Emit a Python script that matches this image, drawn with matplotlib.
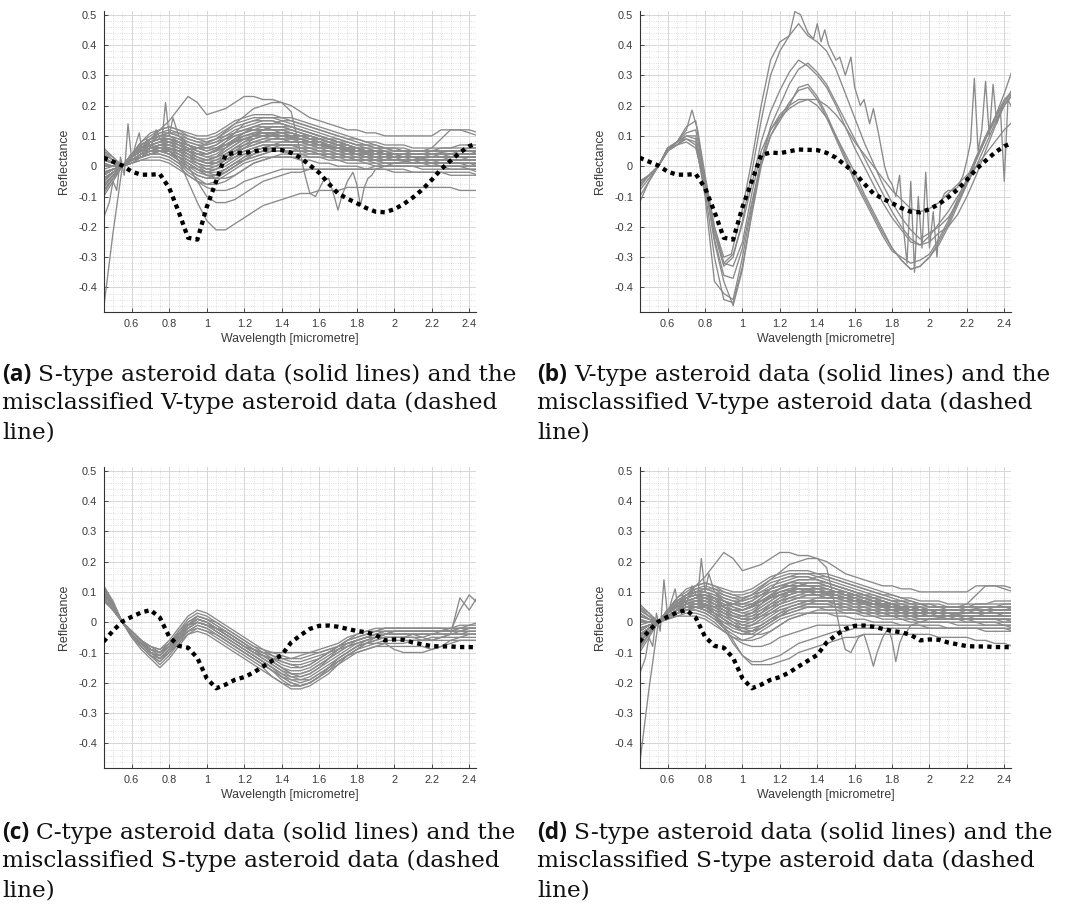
import numpy as np
import matplotlib
matplotlib.use("Agg")
import matplotlib.pyplot as plt
from matplotlib.ticker import MultipleLocator, FuncFormatter

# Sampling wavelengths (micrometre) shared by most spectra
wavelength = np.array([
    0.45, 0.50, 0.55, 0.60, 0.65, 0.70, 0.75, 0.80, 0.85, 0.90, 0.95,
    1.00, 1.05, 1.10, 1.15, 1.20, 1.25, 1.30, 1.35, 1.40, 1.45, 1.50,
    1.55, 1.60, 1.65, 1.70, 1.75, 1.80, 1.85, 1.90, 1.95, 2.00, 2.05,
    2.10, 2.15, 2.20, 2.25, 2.30, 2.35, 2.40, 2.45])

# ---------------- S-type spectra (reflectance x 100) ----------------
s_type_band = np.array([
    [-4,-2,0,3,5,7,8,8,6,4,2,1,2,4,6,8,9,10,10,10,10,9,9,8,7,6,5,5,4,4,3,3,3,3,3,3,3,3,3,3,3],
    [-8,-4,0,4,7,9,10,10,8,5,3,2,3,6,9,11,13,14,14,14,13,12,11,10,9,8,7,6,5,4,4,3,3,3,3,4,4,4,4,4,5],
    [2,1,0,2,4,5,6,5,3,1,-1,-2,-1,1,3,5,6,7,7,7,7,6,6,5,5,4,4,3,3,2,2,2,2,2,2,2,2,2,2,2,2],
    [-6,-3,0,3,5,6,7,6,4,2,0,-2,-3,-2,0,2,4,5,6,6,6,5,5,4,4,3,3,2,2,1,1,1,1,1,1,1,0,0,0,0,0],
    [5,2,0,4,8,10,12,13,12,10,9,9,10,12,14,15,16,16,16,15,14,13,12,11,10,9,8,7,6,6,5,5,5,5,5,6,9,12,12,11,10],
    [-3,-1,0,1,3,4,4,3,1,-1,-3,-4,-4,-2,0,2,3,4,5,5,5,5,4,4,3,3,2,2,1,1,0,0,0,0,-1,-1,-1,-1,-1,-1,-2],
    [-10,-5,0,3,6,8,9,9,8,7,6,6,7,9,11,12,13,13,12,12,11,10,9,8,7,6,5,4,4,3,3,2,2,2,2,2,2,3,3,3,3],
    [3,1,0,2,4,6,7,8,7,6,4,3,3,4,6,7,8,9,9,9,8,8,7,7,6,6,5,5,5,4,4,4,4,4,4,5,5,5,5,6,6],
    [-5,-2,0,2,4,5,5,4,2,0,-2,-3,-4,-4,-3,-1,1,2,3,4,4,4,4,4,3,3,3,2,2,2,1,1,1,1,1,1,1,1,1,1,1],
    [0,0,0,3,5,8,9,10,9,8,7,7,8,10,11,12,12,12,12,11,10,9,8,7,6,5,5,4,4,3,3,3,3,2,2,2,2,2,2,2,2],
    [-7,-3,0,2,3,4,4,3,1,-2,-4,-6,-6,-5,-3,-1,1,2,3,3,3,3,3,3,3,2,2,2,2,2,1,1,1,1,1,0,0,0,0,-1,-1],
    [4,2,0,3,6,8,9,9,7,5,3,2,3,5,7,9,10,11,11,11,11,10,10,9,8,7,6,5,5,4,4,3,3,3,2,2,2,2,2,3,3],
    [-2,-1,0,3,6,9,11,12,11,9,8,7,8,9,11,12,13,14,14,15,15,14,13,12,11,10,9,8,7,7,6,6,6,5,5,5,5,5,5,5,5],
    [-4,-2,0,2,3,5,5,5,3,1,-1,-2,-1,1,3,4,5,6,6,6,6,6,5,5,5,4,4,4,3,3,3,3,3,3,3,3,3,4,4,4,4],
    [6,3,0,1,2,3,3,2,0,-3,-5,-6,-5,-3,-1,1,2,3,3,3,3,2,2,1,1,0,0,0,-1,-1,-1,-2,-2,-2,-2,-2,-2,-3,-3,-3,-3],
    [-9,-4,0,4,7,9,10,11,11,10,9,8,9,10,12,13,14,15,15,14,13,12,11,10,9,8,7,6,5,5,4,4,4,3,3,3,3,3,4,4,4],
    [1,0,0,2,4,6,7,6,5,4,3,2,2,3,5,6,7,8,9,9,9,9,8,8,7,7,6,6,5,5,5,4,4,4,4,4,4,4,4,4,4],
    [-3,-1,0,2,3,4,5,5,4,3,2,1,1,2,3,5,6,7,7,7,7,6,6,5,4,4,3,3,2,2,2,2,2,2,1,1,1,1,1,0,0],
    [2,1,0,4,7,9,10,10,9,7,5,4,5,7,9,11,12,12,12,12,11,10,9,9,8,7,6,6,5,5,4,4,4,4,4,4,4,4,5,5,5],
    [-5,-2,0,1,2,2,2,1,-1,-3,-5,-7,-8,-8,-7,-5,-4,-3,-2,-1,-1,-1,-1,-1,-1,-1,-1,-1,-1,-1,-1,-1,-1,-2,-2,-2,-2,-2,-2,-2,-3],
    [-2,-1,0,3,5,7,8,9,8,7,6,5,6,8,10,11,12,12,13,13,12,11,10,9,8,7,6,5,5,4,4,3,3,3,3,3,3,3,3,3,3],
    [3,1,0,2,4,5,6,6,5,3,1,0,0,2,4,6,8,9,10,10,10,10,9,9,8,7,7,6,6,5,5,4,4,4,4,4,3,3,3,3,3],
    [-6,-3,0,3,6,7,8,7,5,3,1,-1,-1,0,2,4,5,6,7,7,7,7,6,6,5,5,4,4,3,3,2,2,2,2,2,2,2,2,2,2,2],
    [0,0,0,2,4,6,6,6,5,3,2,1,1,3,5,7,9,10,11,11,11,10,9,8,7,6,5,4,4,3,3,2,2,2,2,1,1,1,1,1,0],
    [-2,-1,0,4,8,11,12,13,12,11,10,10,11,13,15,16,17,17,17,16,15,14,13,12,11,10,9,9,8,8,7,7,7,6,6,6,6,6,6,6,6],
    [-5,-2,0,3,6,8,9,9,8,6,5,4,5,8,11,14,15,16,16,16,16,15,14,13,12,11,10,9,8,7,6,5,5,4,4,4,4,4,4,4,4],
    [-1,0,0,2,4,6,7,7,6,5,4,4,5,6,8,9,10,11,11,11,10,10,9,8,8,7,6,6,5,5,4,4,4,3,3,3,3,3,3,3,3],
    [-4,-2,0,3,5,7,8,8,7,5,4,3,4,6,8,10,11,12,12,12,12,11,10,9,8,8,7,6,6,5,5,4,4,4,4,4,4,4,4,4,4],
    [2,1,0,3,5,6,7,7,6,4,2,1,1,3,5,7,8,8,9,9,8,8,7,6,6,5,4,4,3,3,2,2,2,1,1,1,1,1,1,1,1],
    [-7,-3,0,4,7,9,11,11,10,9,8,8,9,11,13,14,15,15,15,14,13,12,11,10,9,9,8,7,7,6,6,5,5,5,5,5,6,6,7,7,7],
    [3,1,0,2,3,4,5,4,2,0,-1,-2,-2,-1,1,2,3,4,5,5,5,5,5,4,4,4,3,3,3,2,2,2,2,2,2,2,2,2,2,2,2],
    [-3,-1,0,2,4,5,6,6,4,2,0,-1,0,2,4,6,7,8,8,8,8,8,7,7,6,6,5,5,4,4,4,3,3,3,3,3,3,3,3,3,3],
    [1,0,0,3,5,7,8,9,8,7,6,5,6,7,9,10,11,11,11,10,10,9,8,8,7,6,6,5,5,4,4,4,3,3,3,3,3,3,3,3,3],
    [-2,-1,0,2,3,4,5,5,3,1,-1,-3,-3,-1,1,3,5,6,7,8,8,8,8,7,7,6,6,5,5,4,4,3,3,3,2,2,2,2,2,2,2],
    [4,2,0,3,6,8,10,11,10,8,7,6,7,9,10,11,12,13,13,13,12,11,10,9,8,7,7,6,5,5,4,4,4,4,4,4,4,4,4,4,4],
    [-6,-3,0,3,5,6,6,5,3,1,-1,-3,-3,-2,0,2,4,5,6,7,7,7,7,6,6,5,5,4,4,3,3,3,2,2,2,2,1,1,1,1,1],
    [0,0,0,1,3,4,5,4,3,2,1,0,1,3,6,8,10,12,13,13,13,12,11,10,9,8,7,6,5,5,4,4,3,3,3,3,3,3,3,3,3],
    [-4,-2,0,4,6,8,9,8,6,4,2,2,3,5,7,9,10,10,10,9,9,8,8,7,7,6,6,5,5,5,4,4,4,4,4,4,4,4,4,4,4],
    [5,3,0,2,4,6,7,8,8,7,6,6,6,7,8,9,9,10,10,10,10,10,10,9,9,8,8,7,7,6,6,6,5,5,5,5,5,5,5,5,5],
    [-8,-4,0,2,4,5,5,4,2,-1,-3,-4,-3,-1,1,3,4,5,5,5,4,4,3,3,2,2,1,1,1,0,0,0,0,0,0,0,0,-1,-1,-1,-1],
    [-47,-22,0,3,5,6,7,7,6,5,4,4,5,7,8,9,10,10,10,10,9,9,8,7,7,6,6,5,5,4,4,4,4,4,4,4,4,4,4,4,4],
    [0,0,0,3,6,9,12,15,19,23,21,17,18,19,21,23,23,22,22,21,20,18,16,15,14,13,12,12,11,11,10,10,10,10,10,10,12,12,12,12,11],
]) / 100

# S-type spectra that differ between the two S-type panels
s_type_low_a = np.array([
    [-3,-1,0,3,5,7,6,5,2,-5,-12,-18,-21,-21,-19,-17,-15,-13,-12,-11,-10,-9,-9,-8,-8,-8,-7,-7,-7,-7,-7,-7,-7,-7,-7,-7,-7,-7,-8,-8,-8],
    [-2,-1,0,2,4,6,6,5,3,0,-5,-10,-12,-12,-11,-9,-7,-5,-4,-3,-2,-2,-1,-1,-1,-1,-1,-1,-1,0,0,0,0,0,0,0,0,0,0,0,0],
]) / 100
s_type_low_d = np.array([
    [-3,-1,0,3,5,7,7,6,3,-1,-6,-11,-14,-14,-14,-13,-12,-10,-9,-8,-7,-6,-5,-5,-4,-4,-4,-4,-4,-4,-4,-4,-5,-5,-5,-5,-6,-6,-7,-7,-8],
    [-2,-1,0,2,4,5,5,4,2,-2,-7,-11,-13,-13,-12,-11,-9,-7,-6,-5,-4,-3,-3,-2,-2,-2,-2,-2,-2,-2,-2,-2,-2,-2,-2,-2,-2,-2,-2,-2,-2],
]) / 100

# Finely sampled, noisy S-type spectra
s_noisy_short_w = np.array([0.45,0.48,0.50,0.52,0.54,0.56,0.58,0.60,0.62,0.64,0.66,0.68,0.70,0.73,
                            0.76,0.78,0.80,0.82,0.85,0.90,0.95,1.00,1.10,1.20,1.30,1.40,1.50,
                            1.60,1.70,1.80,1.90,2.00,2.10,2.20,2.30,2.40,2.45])
s_noisy_short_v = np.array([-0.17,-0.12,-0.05,-0.08,0.03,-0.03,0.14,0.02,0.07,0.11,0.03,0.09,0.06,0.12,
                            0.08,0.21,0.10,0.16,0.10,0.07,0.05,0.04,0.07,0.10,0.11,0.10,0.09,
                            0.07,0.06,0.05,0.04,0.04,0.04,0.04,0.05,0.05,0.05])
s_noisy_long_w = np.array([0.45,0.55,0.65,0.75,0.85,0.95,1.05,1.15,1.25,1.35,1.40,1.45,1.48,1.52,
                           1.55,1.58,1.62,1.65,1.68,1.70,1.72,1.75,1.78,1.80,1.82,1.84,1.86,
                           1.88,1.90,1.95,2.00,2.10,2.20,2.30,2.40,2.45])
s_noisy_long_v = np.array([0.00,0.00,0.04,0.06,0.05,0.06,0.09,0.14,0.19,0.21,0.21,0.18,0.10,-0.02,
                           -0.09,-0.10,-0.05,-0.04,-0.10,-0.145,-0.10,-0.05,-0.02,-0.06,-0.13,-0.07,-0.04,
                           -0.03,-0.01,0.00,0.01,0.02,0.03,0.03,0.03,0.03])

# ---------------- V-type spectra (reflectance x 100) ----------------
v_type = np.array([
    [-6,-3,0,5,7,10,9,-6,-22,-33,-30,-18,-2,15,30,38,43,47,43,41,38,32,24,16,8,1,-6,-12,-17,-21,-24,-22,-20,-17,-12,-6,0,7,14,21,26],
    [-8,-4,0,5,8,11,12,-4,-20,-32,-29,-19,-6,8,18,25,31,35,33,30,26,20,13,6,0,-6,-12,-17,-21,-25,-26,-25,-22,-20,-16,-10,-3,5,13,20,25],
    [-10,-5,0,6,8,10,10,-6,-24,-36,-37,-27,-12,2,13,20,27,32,34,31,27,21,15,9,3,-3,-9,-15,-20,-24,-26,-23,-19,-15,-10,-5,2,9,16,24,33],
    [-5,-3,0,5,7,9,7,-8,-30,-44,-45,-33,-16,0,10,15,20,26,27,23,17,10,3,-4,-10,-16,-22,-27,-31,-34,-33,-30,-25,-19,-12,-5,3,10,16,21,26],
    [-7,-3,0,6,8,9,8,-10,-38,-42,-44,-30,-13,1,10,16,21,25,26,22,16,9,2,-5,-11,-17,-23,-28,-30,-32,-31,-29,-24,-18,-11,-4,3,9,15,20,24],
    [-12,-5,0,6,7,8,6,-6,-22,-32,-33,-25,-9,5,12,16,19,21,22,22,20,17,13,8,4,0,-4,-8,-11,-14,-15,-14,-12,-9,-6,-3,0,4,8,12,15],
    [-6,-3,0,5,8,13,15,-5,-25,-38,-46,-34,-15,2,12,17,20,22,22,20,16,10,4,-2,-9,-15,-21,-27,-31,-34,-33,-30,-26,-20,-13,-6,2,9,16,22,25],
]) / 100
v_noisy_w = np.array([0.45,0.50,0.55,0.60,0.65,0.70,0.73,0.76,0.80,0.85,0.90,0.94,1.00,1.05,1.10,
                      1.15,1.20,1.25,1.28,1.31,1.35,1.38,1.40,1.42,1.44,1.46,1.50,1.52,1.55,
                      1.58,1.60,1.63,1.65,1.68,1.70,1.73,1.76,1.78,1.80,1.82,1.84,1.86,1.88,
                      1.90,1.92,1.94,1.96,1.98,2.00,2.02,2.04,2.06,2.08,2.10,2.12,2.15,2.18,
                      2.20,2.22,2.24,2.26,2.28,2.30,2.32,2.34,2.36,2.38,2.40,2.42,2.45])
v_noisy_v = np.array([-0.05,-0.03,0.00,0.06,0.08,0.12,0.185,0.12,-0.03,-0.20,-0.30,-0.29,-0.14,0.02,0.20,
                      0.35,0.41,0.43,0.51,0.50,0.44,0.42,0.47,0.41,0.45,0.40,0.35,0.36,0.30,
                      0.36,0.26,0.20,0.22,0.14,0.19,0.10,0.00,-0.04,-0.06,-0.10,-0.03,-0.20,-0.32,
                      -0.05,-0.35,-0.10,-0.27,-0.02,-0.27,-0.15,-0.30,-0.12,-0.09,-0.08,-0.08,-0.07,-0.03,
                      0.02,0.08,0.29,0.05,0.12,0.28,0.10,0.27,0.14,0.18,-0.05,0.22,0.18])

# ---------------- C-type spectra (reflectance x 100) ----------------
c_type = np.array([
    [12,6,0,-4,-7,-10,-12,-9,-5,-1,1,0,-2,-4,-6,-8,-10,-12,-14,-16,-17,-17,-16,-14,-12,-10,-8,-7,-6,-5,-5,-5,-5,-4,-4,-4,-4,-4,-4,-4,-4],
    [10,5,0,-4,-8,-11,-13,-10,-6,-2,0,-1,-3,-5,-7,-9,-11,-13,-15,-17,-19,-19,-18,-16,-14,-12,-10,-8,-7,-6,-5,-5,-5,-5,-5,-4,-4,-4,-4,-3,-3],
    [8,4,0,-3,-6,-9,-10,-7,-3,1,3,2,0,-2,-4,-6,-8,-9,-10,-11,-12,-12,-11,-10,-9,-8,-6,-5,-4,-3,-3,-3,-3,-3,-3,-3,-3,-3,-3,-2,-2],
    [11,6,0,-5,-9,-12,-15,-12,-8,-4,-2,-3,-5,-7,-9,-11,-13,-15,-18,-20,-22,-22,-21,-19,-17,-14,-11,-9,-7,-6,-5,-5,-5,-5,-6,-6,-5,-5,-5,-5,-5],
    [9,5,0,-4,-7,-9,-11,-8,-4,0,2,1,-1,-3,-5,-7,-9,-11,-13,-15,-16,-16,-15,-13,-11,-9,-7,-6,-5,-4,-3,-3,-3,-3,-3,-3,-3,-3,-3,-3,-3],
    [7,4,0,-3,-6,-8,-9,-6,-2,2,4,3,1,-1,-3,-5,-7,-9,-11,-13,-14,-15,-14,-12,-10,-8,-6,-4,-3,-2,-2,-2,-2,-2,-2,-2,-2,-2,-2,-2,-2],
    [12,7,0,-5,-8,-11,-12,-9,-6,-3,-2,-3,-4,-6,-8,-10,-12,-14,-16,-18,-20,-21,-20,-18,-15,-12,-10,-8,-6,-5,-4,-4,-4,-4,-5,-6,-5,-4,-3,-2,-2],
    [10,5,0,-4,-7,-10,-11,-8,-4,-1,1,0,-2,-4,-6,-8,-10,-11,-12,-13,-14,-14,-13,-12,-10,-8,-7,-6,-5,-4,-4,-3,-3,-3,-3,-3,-3,-3,-2,-2,-2],
    [9,5,0,-4,-7,-10,-12,-9,-5,-1,2,1,-1,-3,-5,-7,-9,-11,-13,-15,-17,-18,-17,-15,-13,-11,-9,-7,-6,-5,-4,-4,-4,-4,-4,-4,-3,-3,-2,-1,0],
    [11,6,0,-4,-8,-11,-13,-10,-6,-2,0,-1,-3,-5,-7,-9,-11,-13,-15,-18,-20,-21,-20,-18,-16,-13,-11,-9,-8,-7,-6,-6,-6,-6,-6,-6,-6,-6,-6,-6,-6],
    [8,4,0,-3,-6,-9,-10,-7,-4,-1,1,0,-2,-4,-6,-8,-9,-10,-10,-10,-10,-10,-10,-10,-9,-8,-7,-6,-5,-4,-3,-3,-3,-3,-3,-3,-3,-3,-3,-3,-3],
    [10,5,0,-4,-7,-10,-12,-9,-6,-3,-1,-2,-4,-6,-8,-10,-12,-14,-16,-18,-19,-20,-19,-17,-15,-13,-11,-10,-9,-8,-8,-8,-8,-8,-8,-9,-8,-7,-6,-6,-6],
    [12,6,0,-4,-7,-9,-10,-7,-3,0,2,1,0,-2,-4,-6,-8,-10,-12,-14,-15,-15,-14,-12,-10,-8,-6,-5,-4,-3,-2,-2,-2,-2,-2,-2,-2,-3,4,9,6],
    [9,5,0,-3,-6,-8,-9,-7,-4,-1,0,-1,-3,-5,-7,-9,-11,-13,-15,-17,-18,-18,-17,-15,-12,-9,-7,-6,-5,-5,-4,-4,-4,-4,-4,-4,-4,-4,-4,-4,-4],
    [11,6,0,-4,-7,-10,-11,-8,-4,-1,1,0,-2,-3,-5,-7,-9,-11,-13,-15,-17,-17,-16,-14,-12,-10,-8,-6,-5,-4,-4,-4,-4,-4,-4,-4,-4,-4,8,4,9],
    [10,5,0,-4,-7,-10,-12,-10,-7,-4,-3,-4,-6,-8,-10,-12,-14,-16,-18,-20,-21,-21,-20,-18,-16,-14,-12,-10,-9,-8,-7,-7,-7,-6,-6,-5,-5,-4,-4,-4,-4],
    [8,4,0,-3,-6,-8,-10,-8,-5,-2,0,-1,-2,-4,-6,-8,-10,-11,-12,-12,-12,-11,-10,-9,-8,-7,-5,-4,-3,-3,-2,-2,-2,-2,-2,-2,-2,-2,-2,-2,-2],
    [11,6,0,-4,-8,-11,-14,-11,-7,-3,-1,-2,-4,-6,-8,-10,-12,-14,-16,-19,-21,-21,-20,-18,-15,-12,-10,-8,-7,-7,-7,-9,-10,-10,-10,-9,-8,-6,-5,-4,-4],
    [9,5,0,-3,-6,-9,-10,-8,-5,-2,0,-1,-2,-3,-5,-7,-9,-10,-11,-12,-13,-13,-12,-11,-10,-9,-8,-7,-6,-5,-4,-4,-4,-4,-4,-4,-4,-4,-4,-4,-4],
    [10,5,0,-4,-7,-10,-11,-8,-5,-1,1,0,-2,-4,-6,-8,-10,-12,-14,-16,-18,-19,-19,-17,-15,-13,-11,-9,-7,-5,-4,-3,-3,-3,-3,-3,-3,-2,-1,-1,-1],
]) / 100

# ---------------- Misclassified spectra (dashed) ----------------
misclassified_v = np.array([
    2.8,1.5,0.2,-1.8,-2.8,-2.8,-2.6,-7.2,-15.0,-23.6,-24.2,-13.5,-5.0,3.7,4.5,4.3,4.9,5.5,5.4,5.3,4.4,
    2.8,0.3,-2.2,-5.7,-9.0,-10.7,-12.2,-13.8,-15.0,-15.2,-14.2,-12.5,-10.3,-7.7,-4.5,-1.0,1.8,4.5,6.6,7.8]) / 100
misclassified_s = np.array([
    -6.4,-2.8,0.2,1.8,3.2,4.0,1.5,-4.8,-7.8,-8.4,-11.8,-18.5,-21.8,-20.6,-19.0,-18.1,-16.6,-14.6,-12.7,
    -10.8,-6.7,-4.3,-2.2,-1.2,-1.1,-1.5,-2.2,-2.9,-3.3,-4.2,-6.0,-5.7,-5.8,-6.7,-7.3,-7.9,-8.0,-8.0,
    -8.2,-8.2,-8.3]) / 100

captions = [
    ("(a)", "S-type asteroid data (solid lines) and the",
     ["misclassified V-type asteroid data (dashed", "line)"]),
    ("(b)", "V-type asteroid data (solid lines) and the",
     ["misclassified V-type asteroid data (dashed", "line)"]),
    ("(c)", "C-type asteroid data (solid lines) and the",
     ["misclassified S-type asteroid data (dashed", "line)"]),
    ("(d)", "S-type asteroid data (solid lines) and the",
     ["misclassified S-type asteroid data (dashed", "line)"]),
]

GRAY = "#8a8a8a"
LW = 0.95
W, H = 1071, 915
fig = plt.figure(figsize=(W / 100, H / 100), dpi=100)
fig.patch.set_facecolor("white")

# axes boxes in pixels: left, top, width, height
boxes = [(104, 11, 372, 301), (640, 11, 371, 301), (104, 467, 372, 301), (640, 467, 371, 301)]
axes = [fig.add_axes([l / W, 1 - (t + h) / H, w / W, h / H]) for (l, t, w, h) in boxes]


def tick_fmt(v, _):
    v = round(v, 2)
    if abs(v) < 1e-9:
        return "0"
    return f"{v:g}"


def style(ax):
    ax.set_xlim(0.452, 2.436)
    ax.set_ylim(-0.481, 0.512)
    ax.xaxis.set_major_locator(MultipleLocator(0.2))
    ax.xaxis.set_minor_locator(MultipleLocator(0.05))
    ax.yaxis.set_major_locator(MultipleLocator(0.1))
    ax.yaxis.set_minor_locator(MultipleLocator(0.02))
    ax.xaxis.set_major_formatter(FuncFormatter(tick_fmt))
    ax.yaxis.set_major_formatter(FuncFormatter(tick_fmt))
    ax.grid(which="major", color="#d6d6d6", lw=0.7, ls="-", zorder=0)
    ax.grid(which="minor", color="#c4c4c4", lw=0.5, ls=(0, (1, 2.2)), zorder=0)
    ax.set_axisbelow(True)
    for side in ("top", "right"):
        ax.spines[side].set_visible(False)
    for side in ("left", "bottom"):
        ax.spines[side].set_color("#333333")
        ax.spines[side].set_linewidth(0.8)
    ax.tick_params(which="major", direction="in", length=3, width=0.6, colors="#333333",
                   labelsize=7.9, labelcolor="#3a3a3a", pad=5)
    ax.tick_params(which="minor", length=0)
    for lab in ax.get_xticklabels() + ax.get_yticklabels():
        lab.set_family("Liberation Sans")
    ax.set_xlabel("Wavelength [micrometre]", family="Liberation Sans", fontsize=8.9,
                  color="#3a3a3a", labelpad=3)
    ax.set_ylabel("Reflectance", family="Liberation Sans", fontsize=8.9,
                  color="#3a3a3a", labelpad=6)


def draw_solid(ax, curves):
    for row in curves:
        ax.plot(wavelength, row, color=GRAY, lw=LW, zorder=2)


def draw_dashed(ax, values):
    ax.plot(wavelength, values, color="black", lw=3.1, ls=(0, (1, 1)),
            dash_capstyle="butt", zorder=5)


ax_a, ax_b, ax_c, ax_d = axes

# (a) S-type vs misclassified V-type
draw_solid(ax_a, s_type_band)
draw_solid(ax_a, s_type_low_a)
ax_a.plot(s_noisy_short_w, s_noisy_short_v, color=GRAY, lw=LW, zorder=2)
ax_a.plot(s_noisy_long_w, s_noisy_long_v, color=GRAY, lw=LW, zorder=2)
draw_dashed(ax_a, misclassified_v)

# (b) V-type vs misclassified V-type
draw_solid(ax_b, v_type)
ax_b.plot(v_noisy_w, v_noisy_v, color=GRAY, lw=LW, zorder=2)
draw_dashed(ax_b, misclassified_v)

# (c) C-type vs misclassified S-type
draw_solid(ax_c, c_type)
draw_dashed(ax_c, misclassified_s)

# (d) S-type vs misclassified S-type
draw_solid(ax_d, s_type_band)
draw_solid(ax_d, s_type_low_d)
ax_d.plot(s_noisy_short_w, s_noisy_short_v, color=GRAY, lw=LW, zorder=2)
ax_d.plot(s_noisy_long_w, s_noisy_long_v, color=GRAY, lw=LW, zorder=2)
draw_dashed(ax_d, misclassified_s)

for ax in axes:
    style(ax)

# Sub-figure captions: bold sans tag followed by serif text.
# The serif size is chosen so the second caption line spans about 500 px.
fig.canvas.draw()
renderer = fig.canvas.get_renderer()
SERIF = "DejaVu Serif"
probe = fig.text(0, 0, captions[0][2][0], family=SERIF, fontsize=14)
probe_w = probe.get_window_extent(renderer).width
probe.remove()
cap_size = 14 * 500 / probe_w

cap_x = [2, 537, 2, 537]
cap_base = [381, 381, 839, 839]
line_gap = 28.5
for (tag, first, rest), x0, y0 in zip(captions, cap_x, cap_base):
    t = fig.text(x0 / W, 1 - y0 / H, tag, family="Open Sans", weight="bold",
                 fontsize=cap_size * 0.97, va="baseline", ha="left", color="#111111")
    bb = t.get_window_extent(renderer)
    fig.text((bb.x1 + 7) / W, 1 - y0 / H, first, family=SERIF,
             fontsize=cap_size, va="baseline", ha="left", color="#111111")
    for i, line in enumerate(rest, start=1):
        fig.text(x0 / W, 1 - (y0 + i * line_gap) / H, line, family=SERIF,
                 fontsize=cap_size, va="baseline", ha="left", color="#111111")

fig.savefig("out.png", dpi=100, facecolor="white")
